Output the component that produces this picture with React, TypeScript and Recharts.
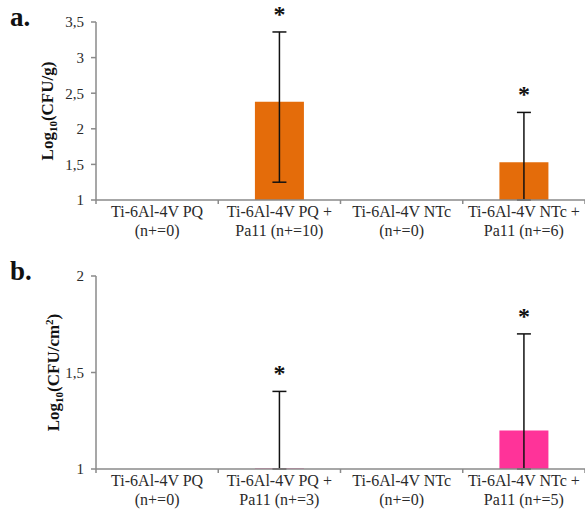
import { Bar, ComposedChart, ErrorBar, LabelList, Line, XAxis, YAxis } from 'recharts'

// panel a: Log10(CFU/g)
const catsA = ['Ti-6Al-4V PQ|(n+=0)', 'Ti-6Al-4V PQ +|Pa11 (n+=10)', 'Ti-6Al-4V NTc|(n+=0)', 'Ti-6Al-4V NTc +|Pa11 (n+=6)']
const meansA = [null, 2.38, null, 1.53]
const errLowA = [null, 1.13, null, 0.53]
const errHighA = [null, 0.98, null, 0.7]
const ticksA = [1, 1.5, 2, 2.5, 3, 3.5]

// panel b: Log10(CFU/cm2)
const catsB = ['Ti-6Al-4V PQ|(n+=0)', 'Ti-6Al-4V PQ +|Pa11 (n+=3)', 'Ti-6Al-4V NTc|(n+=0)', 'Ti-6Al-4V NTc +|Pa11 (n+=5)']
const meansB = [null, 1.002, null, 1.2]
const errLowB = [null, 0.002, null, 0.2]
const errHighB = [null, 0.4, null, 0.5]
const ticksB = [1, 1.5, 2]

const serif = '"Liberation Serif", "Times New Roman", serif'
const axisGray = '#8a8a8a'
const textColor = '#2a2a2a'

function buildRows(cats: string[], means: (number | null)[], lo: (number | null)[], hi: (number | null)[]) {
    return cats.map((name, i) => {
        const m = means[i]
        return {
            name,
            mean: m,
            err: m == null ? undefined : [lo[i], hi[i]],
            top: m == null ? null : m + (hi[i] ?? 0),
        }
    })
}

const rowsA = buildRows(catsA, meansA, errLowA, errHighA)
const rowsB = buildRows(catsB, meansB, errLowB, errHighB)

const fmt = (v: number) => String(v).replace('.', ',')

function CatTick(props: any) {
    const { x, y, payload, index, visibleTicksCount } = props
    const [l1, l2] = String(payload.value).split('|')
    const half = payload.offset ?? 0
    return <g>
        <line x1={x - half} x2={x - half} y1={y} y2={y + 4} stroke={axisGray} strokeWidth={1.5} />
        {index === visibleTicksCount - 1 && <line x1={x + half} x2={x + half} y1={y} y2={y + 4} stroke={axisGray} strokeWidth={1.5} />}
        <text x={x} y={y + 17} textAnchor="middle" fontFamily={serif} fontSize={16} fill={textColor}>
            <tspan x={x}>{l1}</tspan>
            <tspan x={x} dy={18.5}>{l2}</tspan>
        </text>
    </g>
}

const Star = (p: any) => {
    if (p.value == null) return null
    return <text x={p.x} y={p.y - 10} textAnchor="middle" fontFamily={serif} fontSize={24} fontWeight="bold" fill="#111">*</text>
}

function axisLabel(unit: 'g' | 'cm2', baseX: number) {
    return (p: any) => {
        const vb = p.viewBox
        const cy = vb.y + vb.height / 2
        return <text x={baseX} y={cy} transform={`rotate(-90, ${baseX}, ${cy})`} textAnchor="middle"
            fontFamily={serif} fontSize={17} fontWeight="bold" fill="#111">
            Log<tspan fontSize={11} dy={4}>10</tspan>
            <tspan dy={-4}>{unit === 'g' ? '(CFU/g)' : '(CFU/cm'}</tspan>
            {unit === 'cm2' && <tspan fontSize={11} dy={-6}>2</tspan>}
            {unit === 'cm2' && <tspan dy={6}>)</tspan>}
        </text>
    }
}

function Panel(props: { rows: any[], ticks: number[], color: string, height: number, top: number, xh: number, unit: 'g' | 'cm2', labelX: number }) {
    const { rows, ticks, color, height, top, xh, unit, labelX } = props
    return <ComposedChart width={585} height={height} data={rows} margin={{ top, right: 0, bottom: 0, left: 0 }} barCategoryGap="30%">
        <XAxis dataKey="name" height={xh} interval={0} tickLine={false} tickSize={0} tickMargin={0}
            stroke={axisGray} strokeWidth={1.5} tick={<CatTick />} />
        <YAxis width={96} domain={[ticks[0], ticks[ticks.length - 1]]} ticks={ticks} tickFormatter={fmt}
            tickSize={5} tickMargin={7} stroke={axisGray} strokeWidth={1.5}
            tick={{ fill: textColor, fontFamily: serif, fontSize: 15 }}
            label={{ content: axisLabel(unit, labelX) }} />
        <Bar dataKey="mean" fill={color} isAnimationActive={false}>
            <ErrorBar dataKey="err" width={7} stroke="#111" strokeWidth={1.5} />
        </Bar>
        <Line dataKey="top" stroke="none" dot={false} activeDot={false} isAnimationActive={false}>
            <LabelList dataKey="top" content={<Star />} />
        </Line>
    </ComposedChart>
}

export default function App() {
    return <div style={{ position: 'absolute', left: 0, top: 0, width: 585, height: 515, background: '#fff', fontFamily: serif }}>
        <div style={{ position: 'relative' }}>
            <Panel rows={rowsA} ticks={ticksA} color="#E46C0A" height={250} top={22} xh={50} unit="g" labelX={53} />
            <span style={{ position: 'absolute', left: 10, top: 2, fontSize: 27, fontWeight: 'bold', color: '#111' }}>a.</span>
        </div>
        <div style={{ position: 'relative' }}>
            <Panel rows={rowsB} ticks={ticksB} color="#FF3399" height={265} top={26} xh={46} unit="cm2" labelX={59} />
            <span style={{ position: 'absolute', left: 10, top: 6, fontSize: 27, fontWeight: 'bold', color: '#111' }}>b.</span>
        </div>
    </div>
}
